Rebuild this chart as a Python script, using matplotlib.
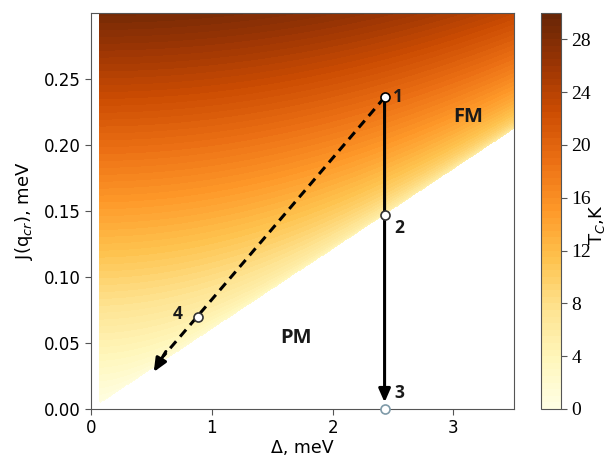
import numpy as np
import matplotlib
matplotlib.use("Agg")
import matplotlib.pyplot as plt

# ---- data ----
delta_range = [0.075, 3.5]        # meV
j_range = [0.0, 0.30]             # meV
coupling_c = 16.5                 # boundary J_c = Delta / c
mev_to_K = 11.6
tc_levels = [0, 30]
cbar_ticks = [0, 4, 8, 12, 16, 20, 24, 28]

pt_delta = [2.43, 2.43, 2.43, 0.89]
pt_j = [0.236, 0.147, 0.0, 0.0697]
pt_labels = ["1", "2", "3", "4"]
lab_delta = [2.54, 2.55, 2.55, 0.72]
lab_j = [0.236, 0.137, 0.012, 0.072]
arrow_tip_solid = [2.43, 0.005]
arrow_tip_dashed = [0.52, 0.028]
region_labels = ["FM", "PM"]
region_delta = [3.12, 1.7]
region_j = [0.221, 0.054]

# ---- field ----
D = np.linspace(delta_range[0], delta_range[1], 400)
J = np.linspace(j_range[0], j_range[1], 400)
DD, JJ = np.meshgrid(D, J)
ratio = DD / (coupling_c * np.maximum(JJ, 1e-9))
with np.errstate(invalid="ignore", divide="ignore"):
    Tc = np.where(ratio < 1, DD / (2 * np.arctanh(np.clip(ratio, 0, 0.999999))), np.nan) * mev_to_K

fig = plt.figure(figsize=(6.06, 4.59), dpi=100)
ax = fig.add_axes([0.150, 0.109, 0.698, 0.863])
cax = fig.add_axes([0.893, 0.109, 0.033, 0.863])

levels = np.linspace(tc_levels[0], tc_levels[1], 61)
cf = ax.contourf(DD, JJ, Tc, levels=levels, cmap="YlOrBr", extend="neither")

ax.set_xlim(0, 3.5)
ax.set_ylim(j_range[0], j_range[1])
ax.set_xticks([0, 1, 2, 3])
ax.set_yticks([0.0, 0.05, 0.10, 0.15, 0.20, 0.25])
ax.set_yticklabels(["0.00", "0.05", "0.10", "0.15", "0.20", "0.25"])
ax.tick_params(labelsize=12, color="#555555", length=4)
for s in ax.spines.values():
    s.set_color("#555555")
ax.set_xlabel("Δ, meV", fontsize=12.5, labelpad=1)
ax.set_ylabel(r"J(q$_{cr}$), meV", fontsize=13, labelpad=6)

# solid vertical arrow 1 -> 3
ax.annotate("", xy=arrow_tip_solid, xytext=(pt_delta[0], pt_j[0]),
            arrowprops=dict(arrowstyle="-|>,head_length=0.8,head_width=0.35", lw=2.2, color="black",
                            shrinkA=0, shrinkB=0))
# dashed arrow 1 -> beyond 4
ax.plot([pt_delta[0], arrow_tip_dashed[0] + 0.08], [pt_j[0], arrow_tip_dashed[1] + 0.012],
        ls=(0, (3, 2)), lw=2.2, color="black")
ax.annotate("", xy=arrow_tip_dashed, xytext=(arrow_tip_dashed[0] + 0.1, arrow_tip_dashed[1] + 0.0155),
            arrowprops=dict(arrowstyle="-|>,head_length=0.8,head_width=0.35", lw=2.2, color="black",
                            shrinkA=0, shrinkB=0))

edge_cols = ["black", "#333333", "#7f9aa8", "#333333"]
for x, y, ec in zip(pt_delta, pt_j, edge_cols):
    ax.plot(x, y, "o", ms=6.5, mfc="white", mec=ec, mew=1.2, clip_on=False, zorder=5)

for t, x, y in zip(pt_labels, lab_delta, lab_j):
    ax.text(x, y, t, fontsize=12.5, fontweight="bold", family="Open Sans", ha="center", va="center",
            color="#1a1a1a")
for t, x, y in zip(region_labels, region_delta, region_j):
    ax.text(x, y, t, fontsize=14.5, fontweight="bold", family="Open Sans", ha="center", va="center",
            color="#1a1a1a")

cb = fig.colorbar(cf, cax=cax, ticks=cbar_ticks)
cb.outline.set_edgecolor("#555555")
cax.tick_params(labelsize=14, color="#555555", length=4)
for lab in cax.get_yticklabels():
    lab.set_family("Liberation Serif")
cb.set_label("T$_C$,K", fontsize=13)
cax.yaxis.set_label_coords(2.3, 0.465)

fig.savefig("out.png", dpi=100)
